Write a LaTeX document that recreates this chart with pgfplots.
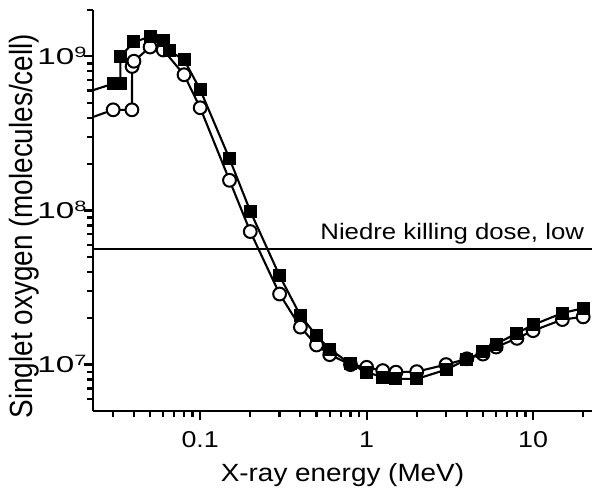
\documentclass[border=0pt]{standalone}
\usepackage{fontspec}
\setmainfont{Liberation Sans}
\usepackage{pgfplots}
\pgfplotsset{compat=1.18}
\newcommand{\sqr}[1]{\scalebox{1.45}[1]{10\raisebox{7bp}{\fontsize{15}{15}\selectfont #1}}}
\newcommand{\xl}[1]{\scalebox{1.17}[1]{#1}}
\begin{document}
\begin{tikzpicture}
\begin{axis}[
  scale only axis, width=499bp, height=401bp,
  xmode=log, ymode=log,
  xmin=0.0227, xmax=22.6, ymin=5e6, ymax=2e9,
  axis x line*=bottom, axis y line*=left,
  axis line style={line width=2.8bp, black},
  xtick={0.1,1,10}, xticklabels={\xl{0.1},\xl{1},\xl{10}},
  minor xtick={0.03,0.04,0.05,0.06,0.07,0.08,0.09,0.2,0.3,0.4,0.5,0.6,0.7,0.8,0.9,2,3,4,5,6,7,8,9,20},
  ytick={1e7,1e8,1e9}, yticklabels={\sqr{7},\sqr{8},\sqr{9}},
  minor ytick={6e6,7e6,8e6,9e6,2e7,3e7,4e7,5e7,6e7,7e7,8e7,9e7,2e8,3e8,4e8,5e8,6e8,7e8,8e8,9e8,2e9},
  tick align=outside,
  major tick length=9.5bp, minor tick length=6bp,
  every tick/.style={black, line width=2.2bp},
  ticklabel style={font=\fontsize{23}{23}\selectfont},
  xticklabel style={anchor=base, inner sep=0pt, yshift=-27bp},
  yticklabel style={anchor=base east, inner sep=0pt, xshift=3bp, yshift=-8bp},
  xlabel={\scalebox{1.12}[1]{X-ray energy (MeV)}},
  ylabel={\scalebox{1}[1.15]{Singlet oxygen (molecules/cell)}},
  xlabel style={font=\fontsize{25}{25}\selectfont, at={(axis description cs:0.5,0)}, anchor=base, yshift=-71bp},
  ylabel style={font=\fontsize{28}{28}\selectfont, at={(axis description cs:-0.1222,0.461)}, anchor=base, rotate=0},
]
% killing dose line
\addplot[black, line width=1.9bp, forget plot] coordinates {(0.0227,5.65e7) (22.6,5.65e7)};
% line-only lead-ins
\addplot[black, line width=2.1bp, forget plot] coordinates {(0.02,3.85e8) (0.03,4.5e8)};
\addplot[black, line width=2.1bp, forget plot] coordinates {(0.02,5.77e8) (0.03,6.65e8)};
% circles
\addplot[black, line width=2.1bp, mark=*, mark size=6.4bp, mark options={fill=white, draw=black, line width=2bp}] coordinates {
(0.03,4.5e8) (0.0389,4.5e8) (0.039,8.6e8) (0.04,9.3e8) (0.05,1.15e9) (0.06,1.1e9)
(0.08,7.6e8) (0.1,4.64e8) (0.15,1.57e8) (0.2,7.3e7) (0.3,2.87e7) (0.4,1.75e7)
(0.5,1.34e7) (0.6,1.16e7) (0.8,1.0e7) (1,9.6e6) (1.25,9.14e6) (1.5,8.93e6)
(2,9.0e6) (3,1.0e7) (4,1.09e7) (5,1.17e7) (6,1.30e7) (8,1.48e7) (10,1.66e7)
(15,1.96e7) (20,2.04e7)};
% squares
\addplot[black, line width=2.1bp, mark=square*, mark size=6bp, mark options={fill=black, draw=black, line width=1bp}] coordinates {
(0.03,6.65e8) (0.0331,6.65e8) (0.0332,1.0e9) (0.04,1.24e9) (0.05,1.34e9) (0.06,1.27e9)
(0.065,1.09e9) (0.08,9.5e8) (0.1,6.08e8) (0.15,2.17e8) (0.2,9.9e7) (0.3,3.77e7)
(0.4,2.08e7) (0.5,1.54e7) (0.6,1.26e7) (0.8,1.01e7) (1,8.93e6) (1.25,8.28e6)
(1.5,8.07e6) (2,8.07e6) (3,9.27e6) (4,1.08e7) (5,1.21e7) (6,1.36e7) (8,1.60e7)
(10,1.81e7) (15,2.16e7) (20,2.32e7)};
\node[anchor=base east, inner sep=0pt, font=\fontsize{22.5}{22.5}\selectfont, yshift=9bp] at (axis cs:20.3,5.65e7) {\scalebox{1.15}[1]{Niedre killing dose, low}};
\end{axis}
\pgfresetboundingbox
\path[use as bounding box] (current axis.south west) ++(-93bp,-83bp) rectangle ++(602bp,494bp);
\end{tikzpicture}
\end{document}
